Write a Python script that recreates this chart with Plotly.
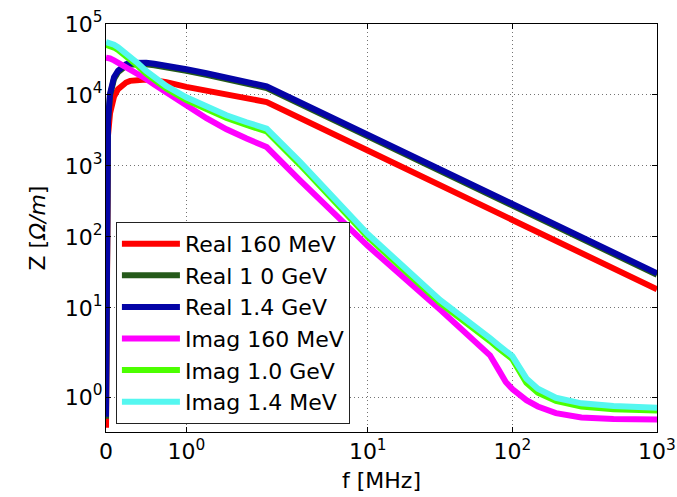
import numpy as np
import plotly.graph_objects as go

# ---------------- data ----------------
F_REAL = [0, 0.025, 0.05, 0.1, 0.15, 0.2, 0.25, 0.3, 0.4, 0.5, 0.6, 0.75, 1.0,
          1.25, 1.5, 1.75, 2, 10, 100, 1000]
REAL_160MEV = [0.22, 2700, 5500, 9500, 12100, 13900, 15000, 15800, 16500, 16500,
               16100, 15200, 13000, 11400, 10000, 8950, 7950, 1650, 174, 18.3]
REAL_1_0GEV = [0.45, 4150, 9800, 16900, 20900, 24000, 25800, 26800, 27300, 27100,
               26200, 24700, 21850, 19200, 16600, 14450, 12550, 2610, 276, 29.3]
REAL_1_4GEV = [0.5, 4400, 10400, 17800, 22000, 25300, 27200, 28200, 28700, 28500,
               27600, 26000, 23000, 20200, 17500, 15200, 13200, 2750, 291, 30.8]

F_IMAG = [0, 0.025, 0.05, 0.1, 0.15, 0.2, 0.25, 0.3, 0.4, 0.5, 0.6, 0.75, 1.0,
          1.25, 1.5, 1.75, 2, 3.4, 10, 31.6, 50, 70, 80, 90, 100, 125, 150, 200,
          300, 500, 1000]
IMAG_160MEV = [33600, 33300, 32700, 30800, 28700, 26700, 24800, 23000, 19900, 16800,
               14100, 11100, 7150, 4715, 3290, 2435, 1850, 627, 75, 9.5, 4.1, 2.15,
               1.7, 1.38, 1.2, 0.92, 0.76, 0.59, 0.48, 0.44, 0.43]
IMAG_1_0GEV = [50900, 50300, 49400, 46600, 43000, 38900, 35500, 32000, 25400, 19900,
               16200, 12300, 8470, 6170, 4740, 3780, 3060, 1040, 100, 11.8, 5.9, 3.42,
               2.72, 2.27, 1.96, 1.36, 1.11, 0.9, 0.76, 0.69, 0.66]
IMAG_1_4GEV = [55700, 55000, 54000, 51000, 47000, 42500, 38800, 35000, 27800, 21800,
               17720, 13440, 9260, 6740, 5180, 4130, 3360, 1140, 110, 13, 6.5, 3.75,
               3.0, 2.5, 2.1, 1.47, 1.21, 0.98, 0.84, 0.77, 0.73]

SERIES = [
    ("Real 160 MeV", F_REAL, REAL_160MEV, "#ff0000"),
    ("Real 1 0 GeV", F_REAL, REAL_1_0GEV, "#255a1a"),
    ("Real 1.4 GeV", F_REAL, REAL_1_4GEV, "#0404a6"),
    ("Imag 160 MeV", F_IMAG, IMAG_160MEV, "#ff00ff"),
    ("Imag 1.0 GeV", F_IMAG, IMAG_1_0GEV, "#4cff00"),
    ("Imag 1.4 MeV", F_IMAG, IMAG_1_4GEV, "#55f7f0"),
]

X_TICKS = [0, 1, 10, 100, 1000]
X_TICKTEXT = ["0", "10<sup>0</sup>", "10<sup>1</sup>", "10<sup>2</sup>", "10<sup>3</sup>"]
Y_TICKS = [1, 10, 100, 1000, 10000, 100000]
Y_TICKTEXT = ["10<sup>0</sup>", "10<sup>1</sup>", "10<sup>2</sup>", "10<sup>3</sup>",
              "10<sup>4</sup>", "10<sup>5</sup>"]


# symmetric-log scale (linthresh = 2, linscale = 1, base 10)
def symlog(v, linthresh=2.0, linscale=1.0, base=10.0):
    v = np.asarray(v, dtype=float)
    adj = linscale / (1.0 - 1.0 / base)
    a = np.abs(v)
    out = np.where(
        a <= linthresh,
        v * adj,
        np.sign(v) * linthresh * (adj + np.log10(np.maximum(a, 1e-300) / linthresh) / np.log10(base)),
    )
    return out


FONT = "DejaVu Sans"
fig = go.Figure()
for name, fx, zy, col in SERIES:
    fig.add_trace(go.Scatter(
        x=symlog(fx), y=symlog(zy), mode="lines", name=name,
        line=dict(color=col, width=6),
        hoverinfo="skip",
    ))

axis_common = dict(
    showline=True, linecolor="#000", linewidth=1, mirror="allticks",
    ticks="inside", ticklen=5, tickwidth=1, tickcolor="#000",
    showgrid=True, gridcolor="rgba(0,0,0,0.55)", gridwidth=1, griddash="1px,3px",
    zeroline=False, automargin=False,
    tickfont=dict(family=FONT, size=22, color="#000"),
)

fig.update_layout(
    width=677, height=497,
    margin=dict(l=106, r=20, t=24, b=65, autoexpand=False),
    paper_bgcolor="white", plot_bgcolor="white",
    font=dict(family=FONT, color="#000"),
    xaxis=dict(
        range=[float(symlog(0)), float(symlog(1000))],
        tickmode="array", tickvals=symlog(X_TICKS).tolist(), ticktext=X_TICKTEXT,
        title=dict(text="f [MHz]", font=dict(family=FONT, size=22), standoff=9),
        ticklabelstandoff=0,
        **axis_common,
    ),
    yaxis=dict(
        range=[0.125, float(symlog(100000))],
        tickmode="array", tickvals=symlog(Y_TICKS).tolist(), ticktext=Y_TICKTEXT,
        title=dict(text="Z [<i>Ω/m</i>]", font=dict(family=FONT, size=22), standoff=13),
        ticklabelstandoff=-2,
        **axis_common,
    ),
    legend=dict(
        x=0.018, y=0.515, xanchor="left", yanchor="top",
        bgcolor="white", bordercolor="#222", borderwidth=1,
        itemwidth=58,
        font=dict(family=FONT, size=22, color="#000"),
    ),
    showlegend=True,
)

fig.write_html("out.html", config={"displayModeBar": False},
               post_script="document.body.style.margin='0px';document.body.style.padding='0px';")
